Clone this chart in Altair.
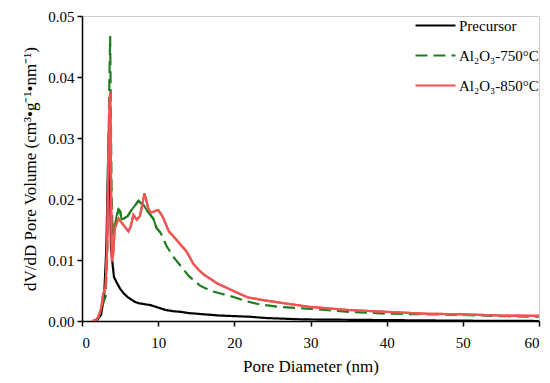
import altair as alt
import pandas as pd

# Pore diameter (nm) and dV/dD values
prec_x = [1.5, 2.0, 2.5, 2.9, 3.2, 3.4, 3.55, 3.7, 3.8, 4.0, 4.2, 4.6, 5.0, 5.5, 6.0, 6.5, 7.0, 7.5,
          8.0, 9.0, 10.0, 11.0, 12.0, 13.0, 14.0, 16.0, 18.0, 20.0, 22.0, 24.0, 26.0, 28.0, 30.0,
          35.0, 40.0, 45.0, 50.0, 55.0, 60.0]
prec_y = [0.0, 0.0002, 0.001, 0.004, 0.012, 0.025, 0.032, 0.022, 0.012, 0.0095, 0.0072, 0.0062,
          0.0053, 0.0045, 0.0039, 0.0035, 0.0031, 0.0029, 0.0028, 0.0026, 0.0022, 0.0018, 0.0016,
          0.0015, 0.0013, 0.0011, 0.0009, 0.0008, 0.0007, 0.0005, 0.0004, 0.0003, 0.00025, 0.0002,
          0.00015, 0.0001, 0.00005, 0.00003, 0.0]

g750_x = [1.5, 2.0, 2.5, 2.8, 3.1, 3.3, 3.45, 3.6, 3.7, 3.78, 3.88, 3.98, 4.1, 4.3, 4.5, 4.8,
          5.0, 5.2, 5.5, 6.0, 6.5, 7.0, 7.4, 7.85, 8.1, 8.6, 9.35, 9.8, 10.3, 11.1, 12.0, 13.3,
          14.0, 15.5, 17.0, 18.2, 20.0, 21.7, 23.4, 26.0, 30.0, 35.0, 40.0, 45.0, 50.0, 55.0, 60.0]
g750_y = [0.0, 0.0003, 0.0015, 0.003, 0.004, 0.01, 0.025, 0.040, 0.0467, 0.035, 0.022, 0.016,
          0.0145, 0.015, 0.017, 0.0183, 0.018, 0.0167, 0.0168, 0.0172, 0.0182, 0.019, 0.0197,
          0.0192, 0.019, 0.018, 0.0168, 0.0152, 0.0145, 0.0123, 0.0105, 0.0085, 0.0074, 0.0058,
          0.0049, 0.0045, 0.0039, 0.0032, 0.0027, 0.0023, 0.0020, 0.0015, 0.0012, 0.0011, 0.0010,
          0.0008, 0.0007]

r850_x = [1.3, 1.8, 2.15, 2.5, 2.8, 3.1, 3.3, 3.45, 3.6, 3.7, 3.77, 3.84, 3.92, 4.1, 4.3, 4.8,
          5.4, 6.1, 6.4, 6.75, 7.2, 7.6, 7.9, 8.2, 8.45, 8.7, 9.0, 9.4, 9.7, 10.0, 10.4, 10.7,
          11.4, 12.2, 13.1, 13.6, 14.0, 14.6, 15.3, 16.0, 17.0, 17.7, 19.9, 21.7, 23.4, 26.0,
          30.0, 35.0, 40.0, 45.0, 50.0, 55.0, 60.0]
r850_y = [0.0, 0.0001, 0.0007, 0.002, 0.0045, 0.0056, 0.012, 0.025, 0.035, 0.0375, 0.030, 0.018,
          0.0098, 0.011, 0.0152, 0.0168, 0.0158, 0.0147, 0.0155, 0.0174, 0.0166, 0.0172, 0.019,
          0.0209, 0.0198, 0.0184, 0.0178, 0.0179, 0.0181, 0.0182, 0.0175, 0.0168, 0.0147, 0.0136,
          0.0123, 0.0116, 0.0108, 0.0094, 0.0084, 0.0076, 0.0068, 0.0062, 0.0049, 0.0039, 0.0035,
          0.0030, 0.0023, 0.0018, 0.0015, 0.0012, 0.0011, 0.0009, 0.00085]

series_names = ["Precursor", "Al\u2082O\u2083-750°C", "Al\u2082O\u2083-850°C"]
series_colors = ["#000000", "#1E7D1E", "#EE5552"]
series_dash = [[1, 0], [12, 6], [1, 0]]

rows = []
for name, xs, ys in zip(series_names, [prec_x, g750_x, r850_x], [prec_y, g750_y, r850_y]):
    for i, (x, y) in enumerate(zip(xs, ys)):
        rows.append({"series": name, "d": x, "v": y, "order": i})
df = pd.DataFrame(rows)

font = "Liberation Serif, Times New Roman, serif"
leg = alt.Legend(orient="none", legendX=332, legendY=-12)

x_enc = alt.X("d:Q", title="Pore Diameter (nm)",
              scale=alt.Scale(domain=[0, 60], nice=False, zero=False),
              axis=alt.Axis(values=[0, 10, 20, 30, 40, 50, 60], format="d", grid=False,
                            labelPadding=9, titlePadding=8))
y_enc = alt.Y("v:Q", title="dV/dD Pore Volume (cm\u00b3•g\u207b\u00b9•nm\u207b\u00b9)",
              scale=alt.Scale(domain=[0, 0.05], nice=False),
              axis=alt.Axis(values=[0, 0.01, 0.02, 0.03, 0.04, 0.05], format=".2f", grid=False,
                            labelPadding=3, titlePadding=8))

base = alt.Chart(df)

lines = base.mark_line(strokeWidth=2.2, clip=True).encode(
    x=x_enc, y=y_enc,
    color=alt.Color("series:N", title=None,
                    scale=alt.Scale(domain=series_names, range=series_colors),
                    legend=leg),
    strokeDash=alt.StrokeDash("series:N", title=None,
                              scale=alt.Scale(domain=series_names, range=series_dash),
                              legend=leg),
    order="order:Q",
)

# dense part of the 750 °C curve appears solid in the reference
green_solid = base.transform_filter(
    (alt.datum.series == series_names[1]) & (alt.datum.d >= 3.98) & (alt.datum.d <= 10.3)
).mark_line(strokeWidth=2.0, color=series_colors[1], clip=True).encode(
    x="d:Q", y="v:Q", order="order:Q"
)

red_top = base.transform_filter(
    alt.datum.series == series_names[2]
).mark_line(strokeWidth=2.2, color=series_colors[2], clip=True).encode(
    x="d:Q", y="v:Q", order="order:Q"
)

chart = alt.layer(lines, green_solid, red_top).properties(
    width=457, height=305,
    autosize=alt.AutoSizeParams(type="none"),
    padding={"left": 74, "top": 8, "right": 2, "bottom": 55},
).configure_view(
    stroke="#cccccc", strokeWidth=1
).configure_axis(
    domainColor="#000000", domainWidth=1.5, tickColor="#000000", tickWidth=1.5, tickSize=5,
    labelFont=font, labelFontSize=15, labelColor="#000000",
    titleFont=font, titleFontSize=17, titleFontWeight="normal", titleColor="#000000",
).configure_legend(
    labelFont=font, labelFontSize=15, labelColor="#000000",
    symbolType="stroke", symbolSize=1600, symbolStrokeWidth=2.2,
    rowPadding=-24, labelOffset=2,
)

chart.save("out.html", embed_options={"renderer": "svg", "actions": False})
